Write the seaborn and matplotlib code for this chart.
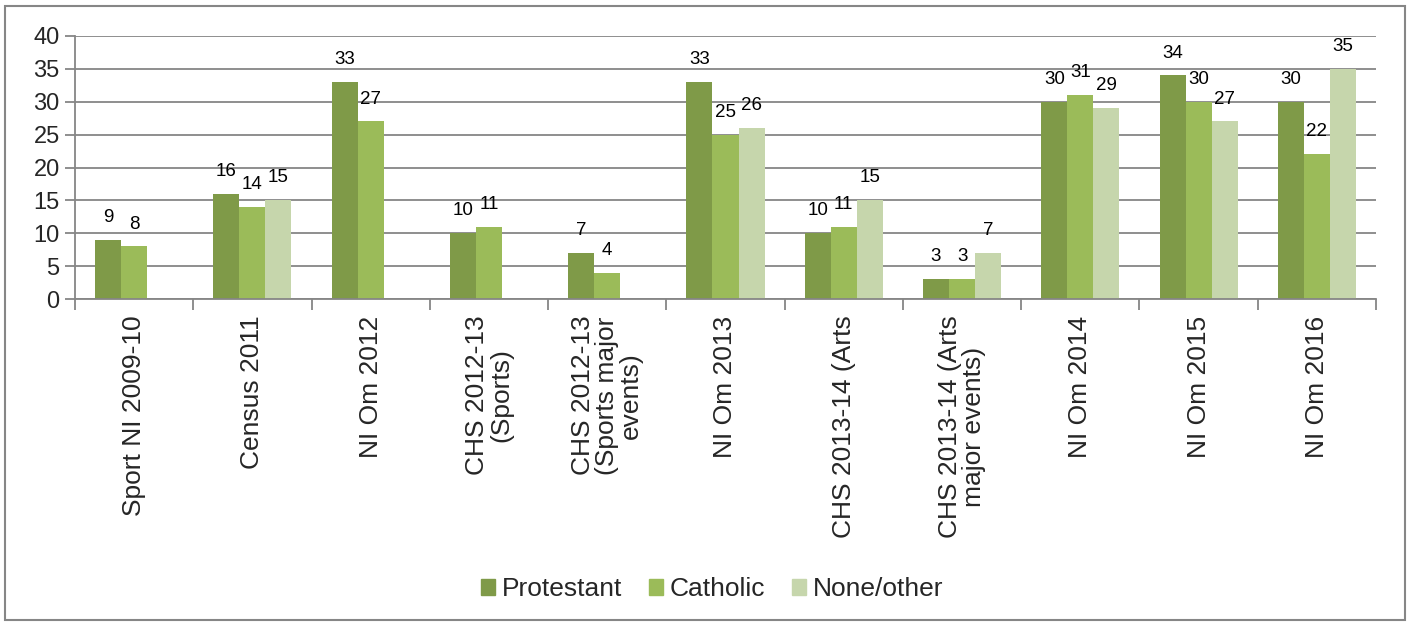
import numpy as np
import pandas as pd
import seaborn as sns
import matplotlib.pyplot as plt
from matplotlib.patches import Rectangle

sns.set_style("white")
plt.rcParams['font.family'] = ['Liberation Sans', 'DejaVu Sans']

# chart data
surveys = ['Sport NI 2009-10', 'Census 2011', 'NI Om 2012', 'CHS 2012-13\n(Sports)',
           'CHS 2012-13\n(Sports major\nevents)', 'NI Om 2013', 'CHS 2013-14 (Arts',
           'CHS 2013-14 (Arts\nmajor events)', 'NI Om 2014', 'NI Om 2015', 'NI Om 2016']
protestant = [9, 16, 33, 10, 7, 33, 10, 3, 30, 34, 30]
catholic = [8, 14, 27, 11, 4, 25, 11, 3, 31, 30, 22]
none_other = [np.nan, 15, np.nan, np.nan, np.nan, 26, 15, 7, 29, 27, 35]
groups = ['Protestant', 'Catholic', 'None/other']
colors = {'Protestant': '#7f9a48', 'Catholic': '#9bbb59', 'None/other': '#c6d6ac'}

rows = []
for g, vals in zip(groups, [protestant, catholic, none_other]):
    for s, v in zip(surveys, vals):
        rows.append({'Survey': s, 'Group': g, 'Value': v})
df = pd.DataFrame(rows)

fig = plt.figure(figsize=(14.1, 6.26), dpi=100)
ax = fig.add_axes([75 / 1410, 1 - 299 / 626, (1376 - 75) / 1410, (299 - 36) / 626])

sns.barplot(data=df.dropna(), x='Survey', y='Value', hue='Group', order=surveys,
            hue_order=groups, palette=colors, width=0.66, linewidth=0,
            saturation=1, ax=ax, legend=False)

grey = '#868686'
for c in ax.containers:
    ax.bar_label(c, fmt='%g', padding=10, fontsize=13.5, color='black')

ax.set_ylim(0, 40)
ax.set_yticks(range(0, 41, 5))
ax.set_xlim(-0.5, len(surveys) - 0.5)
ax.yaxis.grid(True, color=grey, linewidth=1.3)
ax.set_axisbelow(True)
for side in ['top', 'right']:
    ax.spines[side].set_visible(False)
for side in ['left', 'bottom']:
    ax.spines[side].set_color(grey)
    ax.spines[side].set_linewidth(1.3)

ax.set_xlabel('')
ax.set_ylabel('')
ax.tick_params(axis='y', left=True, length=7, width=1.3, color=grey, labelsize=17, pad=4)
ax.set_xticks(range(len(surveys)))
ax.set_xticklabels(surveys, rotation=90, fontsize=19, ha='center', va='top',
                   multialignment='center', linespacing=1.0)
ax.tick_params(axis='x', which='major', length=0, pad=12)
ax.set_xticks(np.arange(-0.5, len(surveys), 1), minor=True)
ax.tick_params(axis='x', which='minor', bottom=True, length=8, width=1.3, color=grey)

handles = [Rectangle((0, 0), 1, 1, color=colors[g]) for g in groups]
fig.legend(handles, groups, loc='center', bbox_to_anchor=(712 / 1410, 1 - 589 / 626),
           ncol=3, frameon=False, fontsize=19, handlelength=0.55, handleheight=0.55,
           handletextpad=0.25, columnspacing=1.0)

fig.patches.append(Rectangle((5 / 1410, 6 / 626), 1400 / 1410, 614 / 626,
                             transform=fig.transFigure, fill=False,
                             edgecolor=grey, linewidth=1.5))

fig.savefig('out.png', dpi=100)
